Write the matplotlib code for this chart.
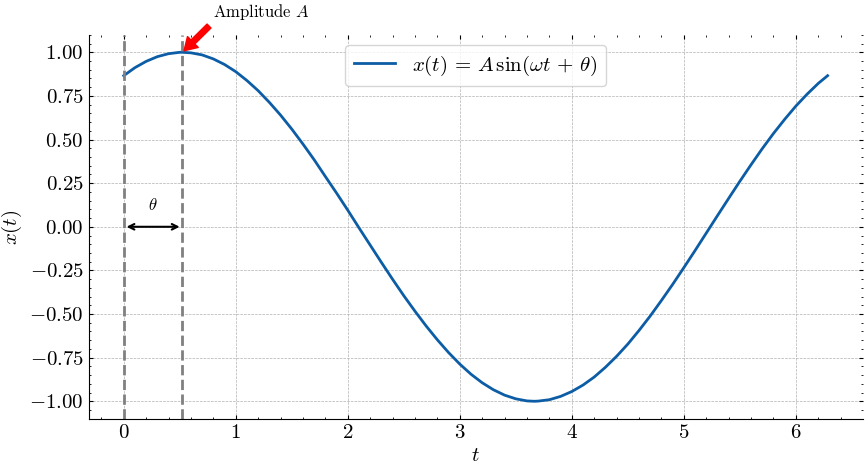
import matplotlib
matplotlib.use('Agg')
import matplotlib.pyplot as plt
from matplotlib.ticker import MultipleLocator, FormatStrFormatter

plt.rcParams['font.family'] = 'serif'
plt.rcParams['font.serif'] = ['cmr10']
plt.rcParams['mathtext.fontset'] = 'cm'
plt.rcParams['axes.formatter.use_mathtext'] = True

# values
t = [0.0, 0.1, 0.2, 0.3, 0.4, 0.5, 0.524, 0.6, 0.7, 0.8, 0.9, 1.0, 1.1, 1.2,
     1.3, 1.4, 1.5, 1.6, 1.7, 1.8, 1.9, 2.0, 2.1, 2.2, 2.3, 2.4, 2.5, 2.6,
     2.7, 2.8, 2.9, 3.0, 3.1, 3.2, 3.3, 3.4, 3.5, 3.6, 3.665, 3.7, 3.8, 3.9,
     4.0, 4.1, 4.2, 4.3, 4.4, 4.5, 4.6, 4.7, 4.8, 4.9, 5.0, 5.1, 5.2, 5.3,
     5.4, 5.5, 5.6, 5.7, 5.8, 5.9, 6.0, 6.1, 6.2, 6.283]
x = [0.866, 0.912, 0.948, 0.975, 0.992, 1.0, 1.0, 0.997, 0.985, 0.962,
     0.930, 0.889, 0.838, 0.780, 0.713, 0.640, 0.560, 0.474, 0.384, 0.288,
     0.193, 0.095, -0.006, -0.105, -0.204, -0.301, -0.395, -0.484, -0.569,
     -0.648, -0.721, -0.787, -0.845, -0.894, -0.934, -0.965, -0.986, -0.998,
     -1.0, -0.999, -0.991, -0.972, -0.944, -0.907, -0.861, -0.805, -0.742,
     -0.672, -0.594, -0.511, -0.422, -0.330, -0.234, -0.136, -0.036, 0.064,
     0.163, 0.261, 0.356, 0.448, 0.535, 0.616, 0.692, 0.760, 0.822, 0.866]

t_start = 0.0
t_peak = 0.524
amplitude = 1.0

fig = plt.figure(figsize=(8.68, 4.71), dpi=100)
ax = fig.add_axes([0.102, 0.111, 0.892, 0.815])

ax.plot(t, x, color='#0C5DA5', lw=2, label=r'$x(t)\,=\,A\,\sin(\omega t\,+\,\theta)$')
ax.axvline(t_start, color='gray', ls='--', lw=2)
ax.axvline(t_peak, color='gray', ls='--', lw=2)

ax.annotate('Amplitude $A$', xy=(t_peak, amplitude), xytext=(0.8, 1.175),
            fontsize=12, ha='left', va='bottom',
            arrowprops=dict(facecolor='red', edgecolor='red', shrink=0.05,
                            width=4, headwidth=11, headlength=9))
ax.annotate('', xy=(t_start, 0), xytext=(t_peak, 0),
            arrowprops=dict(arrowstyle='<->', color='black', lw=1.5))
ax.text((t_start + t_peak) / 2, 0.08, r'$\theta$', ha='center', va='bottom', fontsize=12)

ax.set_xlabel('$t$', fontsize=15)
ax.set_ylabel('$x(t)$', fontsize=15)
ax.xaxis.set_major_locator(MultipleLocator(1))
ax.xaxis.set_minor_locator(MultipleLocator(0.2))
ax.yaxis.set_major_locator(MultipleLocator(0.25))
ax.yaxis.set_minor_locator(MultipleLocator(0.05))
ax.yaxis.set_major_formatter(FormatStrFormatter('$%.2f$'))
ax.xaxis.set_major_formatter(FormatStrFormatter('$%d$'))
ax.tick_params(which='both', direction='in', top=True, right=True, labelsize=15)
ax.tick_params(which='major', length=3)
ax.tick_params(which='minor', length=1.5)
ax.spines['top'].set_visible(False)
ax.spines['right'].set_visible(False)
ax.grid(True, ls='--', lw=0.5, color='#b0b0b0')
ax.legend(loc='upper center', fontsize=15, fancybox=True)

fig.savefig('out.png', dpi=100)
